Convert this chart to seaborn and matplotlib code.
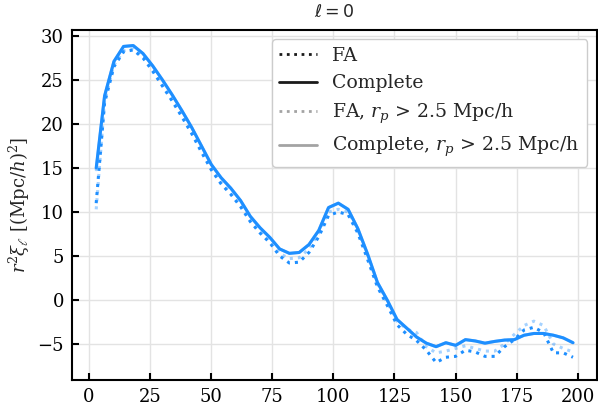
import numpy as np
import pandas as pd
import matplotlib
matplotlib.use("Agg")
import matplotlib.pyplot as plt
from matplotlib.lines import Line2D
import seaborn as sns

# separation bin centres (Mpc/h)
r = [3.0, 6.43, 10.26, 14.19, 18.15, 22.12, 26.1, 30.09, 34.08, 38.07,
     42.06, 46.06, 50.05, 54.05, 58.05, 62.04, 66.04, 70.04, 74.04, 78.03,
     82.03, 86.03, 90.03, 94.03, 98.03, 102.03, 106.03, 110.02, 114.02, 118.02,
     122.02, 126.02, 130.02, 134.02, 138.02, 142.02, 146.02, 150.02, 154.02, 158.02,
     162.02, 166.02, 170.02, 174.02, 178.01, 182.01, 186.01, 190.01, 194.01, 198.01]

complete = [15.0, 23.2, 27.1, 28.8, 28.9, 28.0, 26.6, 25.0, 23.3, 21.5,
            19.6, 17.5, 15.4, 13.9, 12.7, 11.3, 9.5, 8.2, 7.1, 5.8,
            5.3, 5.4, 6.3, 7.9, 10.5, 11.0, 10.3, 8.1, 5.2, 2.0,
            0.0, -2.2, -3.2, -4.2, -4.9, -5.3, -4.85, -5.15, -4.5, -4.65,
            -4.9, -4.7, -4.55, -4.5, -4.0, -3.8, -3.8, -4.0, -4.3, -4.85]

fa = [11.0, 22.4, 26.5, 28.2, 28.4, 27.5, 26.0, 24.3, 22.6, 20.8,
      18.9, 16.8, 14.8, 13.2, 12.0, 10.6, 8.9, 7.6, 6.5, 5.0,
      4.2, 4.3, 5.4, 7.2, 9.6, 10.0, 9.7, 7.6, 4.6, 1.5,
      -0.6, -2.8, -3.9, -4.6, -5.7, -7.1, -6.5, -6.4, -5.7, -5.9,
      -6.4, -6.4, -5.3, -4.5, -3.4, -3.1, -3.7, -6.0, -6.0, -6.5]

fa_rp = [10.3, 22.6, 26.7, 28.3, 28.5, 27.7, 26.2, 24.5, 22.8, 21.0,
         19.1, 17.0, 15.0, 13.4, 12.2, 10.8, 9.1, 7.8, 6.8, 5.3,
         4.7, 4.8, 5.8, 7.6, 10.0, 10.3, 10.0, 7.9, 5.0, 1.8,
         -0.3, -2.4, -3.3, -3.7, -5.3, -6.0, -5.8, -5.5, -5.2, -5.5,
         -5.8, -5.8, -5.0, -3.9, -2.9, -2.4, -2.9, -5.0, -5.5, -5.9]

complete_rp = [14.8, 23.1, 27.1, 28.8, 28.9, 28.0, 26.6, 25.0, 23.3, 21.5,
               19.6, 17.5, 15.4, 13.9, 12.7, 11.3, 9.5, 8.2, 7.1, 5.8,
               5.3, 5.4, 6.3, 7.9, 10.5, 11.0, 10.3, 8.1, 5.2, 2.0,
               0.0, -2.2, -3.2, -4.2, -4.9, -5.3, -4.85, -5.15, -4.5, -4.65,
               -4.9, -4.7, -4.55, -4.5, -4.0, -3.8, -3.8, -4.0, -4.3, -4.85]

labels = ["FA", "Complete", r"FA, $r_p$ > 2.5 Mpc/h", r"Complete, $r_p$ > 2.5 Mpc/h"]

sns.set_theme(style="whitegrid")
plt.rcParams['font.family'] = ['DejaVu Serif']
plt.rcParams['mathtext.fontset'] = 'dejavusans'

blue = "#1E8FFF"
fig = plt.figure(figsize=(5.98, 4.07), dpi=100)
ax = fig.add_axes([0.121, 0.066, 0.877, 0.861])

df = pd.DataFrame({"r": r, "fa": fa, "complete": complete,
                   "fa_rp": fa_rp, "complete_rp": complete_rp})

sns.lineplot(data=df, x="r", y="fa_rp", ax=ax, color=blue, alpha=0.4,
             linestyle=":", lw=2.2, legend=False)
sns.lineplot(data=df, x="r", y="complete_rp", ax=ax, color=blue, alpha=0.4,
             linestyle="-", lw=2.2, legend=False)
sns.lineplot(data=df, x="r", y="fa", ax=ax, color=blue,
             linestyle=":", lw=2.2, legend=False)
sns.lineplot(data=df, x="r", y="complete", ax=ax, color=blue,
             linestyle="-", lw=2.2, legend=False)

ax.set_xlabel("")
ax.set_ylabel(r"$r^2\xi_\ell$ [(Mpc/$h$)$^2$]", fontsize=13,
              math_fontfamily="dejavuserif")
ax.set_title(r"$\ell = 0$", fontsize=12.5, pad=9)
ax.set_xticks([0, 25, 50, 75, 100, 125, 150, 175, 200])
ax.set_yticks([-5, 0, 5, 10, 15, 20, 25, 30])
ax.set_xlim(-6.75, 207.75)
ax.set_ylim(-9.1, 30.7)

ax.grid(True, color="#e3e3e3", lw=1)
for s in ax.spines.values():
    s.set_color("black")
    s.set_linewidth(1.5)
ax.tick_params(axis="both", which="both", direction="in", length=5, width=1.5,
               colors="black", labelsize=13, left=True, bottom=True,
               top=False, right=False, pad=6)

handles = [Line2D([], [], color="k", linestyle=":", lw=2),
           Line2D([], [], color="k", linestyle="-", lw=2),
           Line2D([], [], color="k", alpha=0.4, linestyle=":", lw=2),
           Line2D([], [], color="k", alpha=0.4, linestyle="-", lw=2)]
leg = ax.legend(handles, labels, loc="upper right", fontsize=13.6,
                frameon=True, fancybox=True, framealpha=1.0,
                borderaxespad=0.5, labelspacing=0.5, handletextpad=0.8)
leg.get_frame().set_edgecolor("#cccccc")
for t in leg.get_texts():
    t.set_math_fontfamily("dejavuserif")

fig.savefig("out.png", dpi=100)
